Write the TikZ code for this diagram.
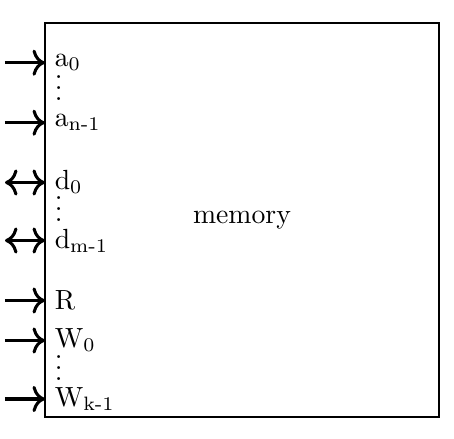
\documentclass[tikz,border=0pt]{standalone}
\usetikzlibrary{arrows.meta}
\begin{document}
\begin{tikzpicture}[x=0.361pt,y=-0.361pt,
  arr/.style={line width=1.1pt,-{To[scale=1.12]}},
  darr/.style={line width=1.1pt,{To[scale=1.12]}-{To[scale=1.12]}},
  lbl/.style={anchor=west,inner xsep=3.33pt,inner ysep=0.5pt},
  dotsnode/.style={anchor=base west,inner sep=0pt}]
\useasboundingbox (0,0) rectangle (454,439);
\node[draw, line width=0.8pt, minimum size=142.2pt, inner sep=0pt, outer sep=0pt] (mem) at (242,220) {memory};
% ports on the left edge of the box
\foreach \n/\y in {a0/62.7, an/122.7, d0/182.5, dm/240.5, R/300.5, W0/340.5, Wk/399}{
  \coordinate (p\n) at (45,\y);
  \coordinate (s\n) at (5,\y);
}
\newcommand{\mydots}{\vbox{\baselineskip4pt\lineskiplimit0pt\hbox{.}\hbox{.}\hbox{.}}}
\node[lbl] (la0) at (pa0) {a\textsubscript{0}};
\node[dotsnode] (adots) at (54.2,100.2) {\mydots};
\node[lbl] (lan) at (pan) {a\textsubscript{n-1}};
\node[lbl] (ld0) at (pd0) {d\textsubscript{0}};
\node[dotsnode] (ddots) at (54.2,222) {\mydots};
\node[lbl] (ldm) at (pdm) {d\textsubscript{m-1}};
\node[lbl] (lR) at (pR) {R};
\node[lbl] (lW0) at (pW0) {W\textsubscript{0}};
\node[dotsnode] (wdots) at (54.2,380.5) {\mydots};
\node[lbl] (lWk) at (pWk) {W\textsubscript{k-1}};
\draw[arr] (sa0) -- (pa0);
\draw[arr] (san) -- (pan);
\draw[darr] (sd0) -- (pd0);
\draw[darr] (sdm) -- (pdm);
\draw[arr] (sR) -- (pR);
\draw[arr] (sW0) -- (pW0);
\draw[arr] (sWk) -- (pWk);
\end{tikzpicture}
\end{document}
